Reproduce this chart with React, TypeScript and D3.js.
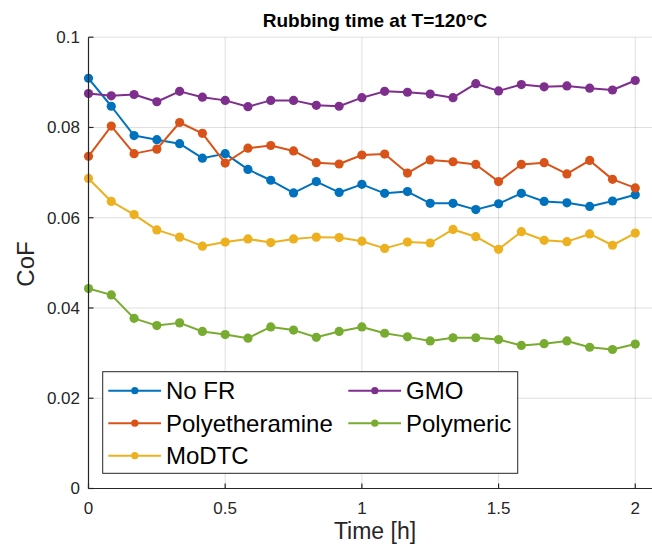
import React from "react";
import * as d3 from "d3";

const timeH = [0, 0.0833, 0.1667, 0.25, 0.3333, 0.4167, 0.5, 0.5833, 0.6667, 0.75, 0.8333, 0.9167, 1, 1.0833, 1.1667, 1.25, 1.3333, 1.4167, 1.5, 1.5833, 1.6667, 1.75, 1.8333, 1.9167, 2];

const noFR = [0.0909, 0.0847, 0.0782, 0.0773, 0.0764, 0.0732, 0.0742, 0.0707, 0.0683, 0.0655, 0.0680, 0.0656, 0.0674, 0.0654, 0.0658, 0.0632, 0.0632, 0.0618, 0.0631, 0.0654, 0.0636, 0.0633, 0.0625, 0.0637, 0.0651];
const polyetheramine = [0.0736, 0.0803, 0.0742, 0.0752, 0.0811, 0.0787, 0.0721, 0.0754, 0.0760, 0.0748, 0.0722, 0.0719, 0.0739, 0.0741, 0.0699, 0.0728, 0.0724, 0.0718, 0.0680, 0.0718, 0.0722, 0.0697, 0.0727, 0.0685, 0.0666];
const moDTC = [0.0687, 0.0636, 0.0607, 0.0573, 0.0557, 0.0537, 0.0546, 0.0553, 0.0545, 0.0553, 0.0557, 0.0556, 0.0548, 0.0532, 0.0546, 0.0544, 0.0574, 0.0558, 0.0530, 0.0569, 0.0550, 0.0547, 0.0564, 0.0539, 0.0566];
const gmo = [0.0875, 0.0870, 0.0873, 0.0857, 0.0880, 0.0867, 0.0860, 0.0846, 0.0860, 0.0860, 0.0849, 0.0847, 0.0866, 0.0880, 0.0878, 0.0874, 0.0866, 0.0897, 0.0881, 0.0895, 0.0890, 0.0892, 0.0887, 0.0883, 0.0904];
const polymeric = [0.0443, 0.0429, 0.0377, 0.0361, 0.0367, 0.0348, 0.0341, 0.0333, 0.0358, 0.0351, 0.0335, 0.0348, 0.0358, 0.0344, 0.0336, 0.0327, 0.0334, 0.0334, 0.0330, 0.0317, 0.0321, 0.0327, 0.0313, 0.0308, 0.0320];

const seriesNames = ["No FR", "Polyetheramine", "MoDTC", "GMO", "Polymeric"];
const seriesValues = [noFR, polyetheramine, moDTC, gmo, polymeric];
const seriesColors = ["#0072BD", "#D95319", "#EDB120", "#7E2F8E", "#77AC30"];

const xTicks = [0, 0.5, 1, 1.5, 2];
const xTickLabels = ["0", "0.5", "1", "1.5", "2"];
const yTicks = [0, 0.02, 0.04, 0.06, 0.08, 0.1];
const yTickLabels = ["0", "0.02", "0.04", "0.06", "0.08", "0.1"];

const titleText = "Rubbing time at T=120°C";
const xLabel = "Time [h]";
const yLabel = "CoF";

export default function App() {
  const W = 652;
  const H = 552;
  const x = d3.scaleLinear().domain([0, 2.1]).range([88.5, 662.6]);
  const y = d3.scaleLinear().domain([0, 0.1]).range([488.5, 37.2]);
  const left = x(0);
  const right = W;
  const top = y(0.1);
  const bottom = y(0);
  const axisColor = "#262626";
  const font = "'Liberation Sans', Arial, Helvetica, sans-serif";

  const line = d3
    .line<number>()
    .x((_, i) => x(timeH[i]))
    .y((d) => y(d));

  const legendItems = [
    { idx: 0, lx: 108.3, ly: 390.7 },
    { idx: 1, lx: 108.3, ly: 423.2 },
    { idx: 2, lx: 108.3, ly: 455.7 },
    { idx: 3, lx: 348.3, ly: 390.7 },
    { idx: 4, lx: 348.3, ly: 423.2 },
  ];

  return (
    <svg
      width={W}
      height={H}
      style={{ position: "absolute", left: 0, top: 0, background: "#fff" }}
      fontFamily={font}
    >
      <rect x={0} y={0} width={W} height={H} fill="#fff" />
      {/* grid */}
      <g stroke={axisColor} strokeOpacity={0.15} strokeWidth={1}>
        {xTicks.map((t) => (
          <line key={"gx" + t} x1={x(t)} x2={x(t)} y1={top} y2={bottom} />
        ))}
        {yTicks.map((t) => (
          <line key={"gy" + t} x1={left} x2={right} y1={y(t)} y2={y(t)} />
        ))}
      </g>
      {/* series */}
      {seriesValues.map((vals, si) => (
        <g key={seriesNames[si]}>
          <path d={line(vals) || ""} fill="none" stroke={seriesColors[si]} strokeWidth={2} strokeLinejoin="round" />
          {vals.map((v, i) => (
            <circle key={i} cx={x(timeH[i])} cy={y(v)} r={4.6} fill={seriesColors[si]} />
          ))}
        </g>
      ))}
      {/* axes */}
      <g stroke={axisColor} strokeWidth={1.2}>
        <line x1={left} x2={left} y1={top} y2={bottom} />
        <line x1={left} x2={right} y1={bottom} y2={bottom} />
        {xTicks.map((t) => (
          <line key={"tx" + t} x1={x(t)} x2={x(t)} y1={bottom} y2={bottom - 5} />
        ))}
        {yTicks.map((t) => (
          <line key={"ty" + t} x1={left} x2={left + 5} y1={y(t)} y2={y(t)} />
        ))}
      </g>
      <g fill={axisColor} fontSize={17}>
        {xTicks.map((t, i) => (
          <text key={"lx" + t} x={x(t)} y={514} textAnchor="middle">
            {xTickLabels[i]}
          </text>
        ))}
        {yTicks.map((t, i) => (
          <text key={"ly" + t} x={80} y={y(t)} dy="0.35em" textAnchor="end">
            {yTickLabels[i]}
          </text>
        ))}
      </g>
      <text x={375} y={539} textAnchor="middle" fontSize={23} fill={axisColor}>
        {xLabel}
      </text>
      <text
        transform={`translate(33.5,264) rotate(-90)`}
        textAnchor="middle"
        fontSize={24}
        fill={axisColor}
      >
        {yLabel}
      </text>
      <text x={375} y={26.7} textAnchor="middle" fontSize={19} fontWeight="bold" fill="#000">
        {titleText}
      </text>
      {/* legend */}
      <rect x={102.7} y={371.7} width={415} height={101.6} fill="#fff" stroke={axisColor} strokeWidth={1} />
      {legendItems.map((it) => (
        <g key={"leg" + it.idx}>
          <line x1={it.lx} x2={it.lx + 52.7} y1={it.ly} y2={it.ly} stroke={seriesColors[it.idx]} strokeWidth={2} />
          <circle cx={it.lx + 26.5} cy={it.ly} r={3.6} fill={seriesColors[it.idx]} />
          <text x={it.lx + 57.7} y={it.ly} dy="0.35em" fontSize={24} fill="#000">
            {seriesNames[it.idx]}
          </text>
        </g>
      ))}
    </svg>
  );
}
